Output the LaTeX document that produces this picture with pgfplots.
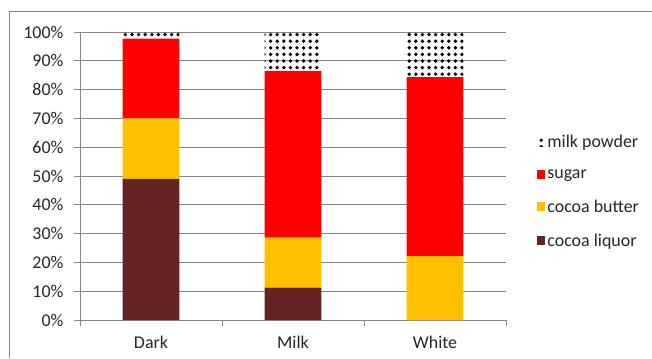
\documentclass[border=0pt]{standalone}
\usepackage{fontspec}
\setmainfont{Carlito}
\usepackage{pgfplots}
\usepackage{pgfplotstable}
\pgfplotsset{compat=1.18}
\usetikzlibrary{patterns}

\definecolor{liquor}{HTML}{632523}
\definecolor{butter}{HTML}{FFC000}
\definecolor{sugar}{HTML}{FF0000}
\definecolor{gridgray}{HTML}{868686}

% coarse black dots for the milk powder share
\pgfdeclarepatternformonly{milkdots}{\pgfpoint{-3bp}{-3bp}}{\pgfpoint{3bp}{3bp}}{\pgfpoint{6.6bp}{6.6bp}}%
  {\pgfpathcircle{\pgfpointorigin}{1.9bp}\pgfusepath{fill}}

% composition of each chocolate type, in percent
\pgfplotstableread{
x liquor butter sugar powder
0 49   21   27.7 2.3
1 11.2 17.4 57.9 13.5
2 0    22.2 62.1 15.7
}\chocolate

\begin{document}
\begin{tikzpicture}[x=1bp,y=1bp]
\useasboundingbox (0,0) rectangle (652,358);
% chart frame
\draw[gridgray, line width=1.2bp] (9.5,0) -- (9.5,346.5) -- (652,346.5);
\begin{axis}[
  at={(80bp,38bp)}, anchor=south west,
  width=426bp, height=288bp, scale only axis,
  font=\fontsize{18}{21}\selectfont,
  /pgf/number format/assume math mode=true,
  ybar stacked, bar width=56.6bp,
  xmin=-0.5, xmax=2.5, ymin=0, ymax=100,
  xtick={0,1,2}, xticklabels={Dark,Milk,White},
  minor xtick={-0.5,0.5,1.5,2.5},
  major x tick style={draw=none},
  ytick={0,10,...,100},
  yticklabel={\pgfmathprintnumber{\tick}\%},
  tick align=outside, major tick length=6bp, minor tick length=6bp,
  tick style={gridgray, line width=0.8bp},
  ymajorgrids, grid style={gridgray, line width=0.8bp},
  axis x line*=bottom, axis y line*=left,
  axis line style={gridgray, line width=0.8bp},
  xticklabel style={yshift=-7bp},
  yticklabel style={xshift=-7bp},
  tick label style={black!85},
  reverse legend,
  legend style={at={(1.065,0.655)}, anchor=north west, draw=none, fill=none,
    row sep=16bp, font=\fontsize{18}{21}\selectfont, text=black!85},
  legend cell align=left,
  legend image code/.code={\fill[#1] (0bp,-4bp) rectangle (8.5bp,4.5bp);},
]
\addplot[fill=liquor, draw=none] table[x=x, y=liquor] {\chocolate};
\addlegendentry{cocoa liquor}
\addplot[fill=butter, draw=none] table[x=x, y=butter] {\chocolate};
\addlegendentry{cocoa butter}
\addplot[fill=sugar, draw=none] table[x=x, y=sugar] {\chocolate};
\addlegendentry{sugar}
\addplot[pattern=milkdots, pattern color=black, draw=none] table[x=x, y=powder] {\chocolate};
\addlegendentry{milk powder}
\end{axis}
\end{tikzpicture}
\end{document}
